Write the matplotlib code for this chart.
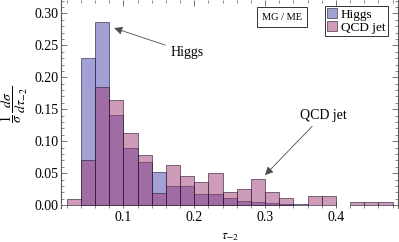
import numpy as np
import matplotlib.pyplot as plt
from matplotlib.ticker import MultipleLocator

plt.rcParams['font.family'] = ['Liberation Serif', 'DejaVu Serif']
plt.rcParams['mathtext.fontset'] = 'stix'

# histogram bins in tau_-2, width 0.02
bin_left = np.arange(0.02, 0.48, 0.02)[:23]
higgs = [0.0, 0.231, 0.286, 0.141, 0.089, 0.068, 0.052, 0.030, 0.030, 0.018, 0.017, 0.0115,
         0.007, 0.005, 0.004, 0.0015, 0.0015, 0.0, 0.0, 0.0, 0.0, 0.0, 0.0]
qcd = [0.010, 0.071, 0.185, 0.165, 0.113, 0.078, 0.019, 0.062, 0.046, 0.0355, 0.051, 0.020,
       0.025, 0.041, 0.020, 0.0105, 0.0, 0.0146, 0.0146, 0.0, 0.0042, 0.0042, 0.0042]
labels = ['Higgs', 'QCD jet']

fig = plt.figure(figsize=(3.99, 2.42), dpi=100)
ax = fig.add_axes([0.153, 0.14, 0.845, 0.86])

for vals, color, lab in [(higgs, (0.33, 0.33, 0.70, 0.55), labels[0]),
                         (qcd, (0.62, 0.22, 0.45, 0.5), labels[1])]:
    vals = np.array(vals)
    m = vals > 0
    ax.bar(bin_left[m], vals[m], width=0.02, align='edge', color=color,
           edgecolor=(0.15, 0.1, 0.2, 0.7), linewidth=0.6, label=lab, zorder=2)

ax.set_xlim(0.012, 0.488)
ax.set_ylim(-0.0047, 0.321)

ax.xaxis.set_minor_locator(MultipleLocator(0.02))
ax.yaxis.set_minor_locator(MultipleLocator(0.01))
ax.set_xticks([0.1, 0.2, 0.3, 0.4])
ax.set_xticklabels(['0.1', '0.2', '0.3', '0.4'])
ax.set_yticks(np.arange(0, 0.31, 0.05))
ax.set_yticklabels(['%.2f' % v for v in np.arange(0, 0.31, 0.05)])
ax.tick_params(which='both', direction='in', top=True, right=True, labelsize=10,
               color='0.35', pad=2)
ax.tick_params(which='major', length=4, width=0.6)
ax.tick_params(which='minor', length=2, width=0.5)
ax.spines['top'].set_visible(False)
ax.spines['bottom'].set_visible(False)
for s in ['left', 'right']:
    ax.spines[s].set_color('0.35')
    ax.spines[s].set_linewidth(0.8)

ax.set_xlabel(r'$\tau_{-2}$', fontsize=9.5, labelpad=5)
ax.set_ylabel(r'$\dfrac{1}{\sigma}\,\dfrac{d\sigma}{d\tau_{-2}}$', fontsize=10, labelpad=3)

arrow = dict(arrowstyle='-|>', color='0.3', lw=0.6, mutation_scale=12,
             shrinkA=2, shrinkB=0)
ax.annotate('Higgs', xy=(0.087, 0.277), xytext=(0.19, 0.239), fontsize=10,
            ha='center', va='center', arrowprops=arrow)
ax.annotate('QCD jet', xy=(0.30, 0.047), xytext=(0.382, 0.141), fontsize=10,
            ha='center', va='center', arrowprops=arrow)

leg = ax.legend(loc='upper right', bbox_to_anchor=(0.977, 0.985), fontsize=9.5,
                handlelength=0.7, handleheight=0.7, handletextpad=0.3,
                borderpad=0.2, borderaxespad=0.2, labelspacing=0.05,
                fancybox=False, edgecolor='0.2', framealpha=1)
leg.get_frame().set_linewidth(0.7)

ax.text(0.655, 0.918, 'MG / ME', transform=ax.transAxes, fontsize=7.5,
        ha='center', va='center',
        bbox=dict(boxstyle='square,pad=0.5', fc='white', ec='0.2', lw=0.7))

fig.savefig('out.png', dpi=100)
